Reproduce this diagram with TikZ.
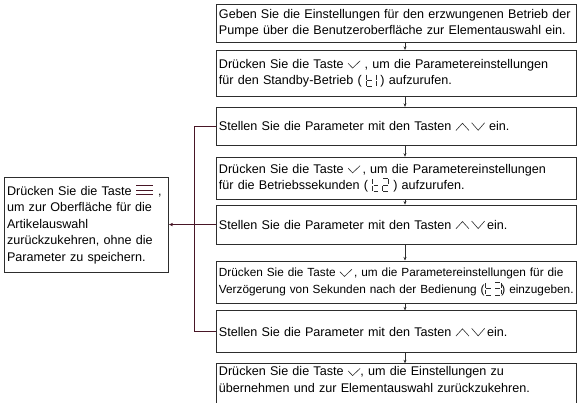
\documentclass[tikz,border=0pt]{standalone}
\usepackage{fontspec}
\setmainfont{Liberation Sans}
\usetikzlibrary{arrows.meta,positioning}
\definecolor{linkmaroon}{RGB}{72,22,38}
\definecolor{framegray}{RGB}{45,45,45}

\tikzset{seg/.style={line width=0.75pt, draw=framegray}}

% key symbols used in the text
\newcommand{\keyok}{\tikz[baseline=0pt,x=1pt,y=1pt]\draw[line width=0.6pt,framegray] (0,5) -- (4.5,0.3) -- (12,7.5);}
\newcommand{\keyup}{\tikz[baseline=0pt,x=1pt,y=1pt]\draw[line width=0.6pt,framegray] (0,0.3) -- (6.5,7.5) -- (13,0.3);}
\newcommand{\keydown}{\tikz[baseline=0pt,x=1pt,y=1pt]\draw[line width=0.6pt,framegray] (0,8) -- (6.5,0.5) -- (13,8);}
\newcommand{\keymenu}{\tikz[baseline=-0.5pt,x=1pt,y=1pt]\draw[line width=1pt,linkmaroon] (0,0) -- (17,0) (0,4.5) -- (17,4.5) (0,9) -- (17,9);}

% seven segment codes t1, t2, t3
\newcommand{\codeta}{\tikz[baseline=2pt,x=1pt,y=1pt]{%
  \draw[seg] (0,12.2) -- (0,7.3) (0,5.7) -- (0,0.8) (0.8,6.5) -- (5.7,6.5) (0.8,0) -- (5.7,0);
  \draw[seg] (9.5,12.2) -- (9.5,7.3) (9.5,5.7) -- (9.5,0.8);}}
\newcommand{\codetb}{\tikz[baseline=2pt,x=1pt,y=1pt]{%
  \draw[seg] (0,12.2) -- (0,7.3) (0,5.7) -- (0,0.8) (0.8,6.5) -- (5.7,6.5) (0.8,0) -- (5.7,0);
  \draw[seg] (10.3,13) -- (15.2,13) (16,12.2) -- (16,7.3) (10.3,6.5) -- (15.2,6.5) (9.5,5.7) -- (9.5,0.8) (10.3,0) -- (15.2,0);}}
\newcommand{\codetc}{\tikz[baseline=2pt,x=1pt,y=1pt]{%
  \draw[seg] (0,12.2) -- (0,7.3) (0,5.7) -- (0,0.8) (0.8,6.5) -- (5.7,6.5) (0.8,0) -- (5.7,0);
  \draw[seg] (10.3,13) -- (15.2,13) (16,12.2) -- (16,7.3) (10.3,6.5) -- (15.2,6.5) (16,5.7) -- (16,0.8) (10.3,0) -- (15.2,0);}}

\begin{document}
\begin{tikzpicture}[
    x=1pt, y=1pt,
    stepbox/.style={draw=framegray, line width=0.9pt, rectangle, text width=355pt, inner xsep=2.5pt, inner ysep=3pt, align=left, font=\fontsize{12.6}{16.5}\selectfont},
    sidebox/.style={stepbox, text width=159pt},
    flow/.style={-{Stealth[length=3.5pt,width=3pt]}, line width=0.5pt, framegray},
    link/.style={line width=1pt, linkmaroon},
    backarrow/.style={link, -{Stealth[length=4pt,width=3.5pt]}}
]
    \useasboundingbox (0,0) rectangle (577,-403);

    % Steps down the right column
    \node[stepbox, minimum height=38pt, anchor=north west] (b1) at (216,-4) {Geben Sie die Einstellungen für den erzwungenen Betrieb der\\Pumpe über die Benutzeroberfläche zur Elementauswahl ein.};
    \node[stepbox, minimum height=46pt] (b2) [below=7pt of b1] {Drücken Sie die Taste \keyok\ , um die Parametereinstellungen\\für den Standby-Betrieb ( \codeta\ ) aufzurufen.};
    \node[stepbox, minimum height=38pt] (b3) [below=10pt of b2] {Stellen Sie die Parameter mit den Tasten \keyup\,\keydown\ ein.};
    \node[stepbox, minimum height=42pt] (b4) [below=11pt of b3] {Drücken Sie die Taste \keyok\,, um die Parametereinstellungen\\für die Betriebssekunden ( \codetb\ ) aufzurufen.};
    \node[stepbox, minimum height=39pt] (b5) [below=5pt of b4] {Stellen Sie die Parameter mit den Tasten \keyup\,\keydown\,ein.};
    \node[stepbox, minimum height=42pt, font=\fontsize{11.8}{16.5}\selectfont] (b6) [below=16pt of b5] {Drücken Sie die Taste \keyok\,, um die Parametereinstellungen für die\\Verzögerung von Sekunden nach der Bedienung (\codetc) einzugeben.};
    \node[stepbox, minimum height=42pt] (b7) [below=7pt of b6] {Stellen Sie die Parameter mit den Tasten \keyup\,\keydown\,ein.};
    \node[stepbox, anchor=north] (b8) [below=10pt of b7] {Drücken Sie die Taste \keyok, um die Einstellungen zu\\übernehmen und zur Elementauswahl zurückzukehren.\rule[-16pt]{0pt}{16pt}};

    % Back-out box on the left
    \node[sidebox, minimum height=95pt] (back) [left=47pt of b5.west] {Drücken Sie die Taste \keymenu\ ,\\um zur Oberfläche für die\\Artikelauswahl\\zurückzukehren, ohne die\\Parameter zu speichern.};

    % Flow arrows
    \coordinate (ax) at (405,0);
    \draw[flow] (b1.south -| ax) -- (b2.north -| ax);
    \draw[flow] (b2.south -| ax) -- (b3.north -| ax);
    \draw[flow] (b3.south -| ax) -- (b4.north -| ax);
    \draw[flow] (b4.south -| ax) -- (b5.north -| ax);
    \draw[flow] (b5.south -| ax) -- (b6.north -| ax);
    \draw[flow] (b6.south -| ax) -- (b7.north -| ax);
    \draw[flow] (b7.south -| ax) -- (b8.north -| ax);

    % Exit links from the parameter steps
    \coordinate (bus) at ([xshift=-22pt]b3.west);
    \draw[link] (b3.west) -- (bus) |- (b7.west);
    \draw[link] (b5.west) -- (b5.west -| bus);
    \draw[backarrow] (b5.west -| bus) -- (back.east);
\end{tikzpicture}
\end{document}
